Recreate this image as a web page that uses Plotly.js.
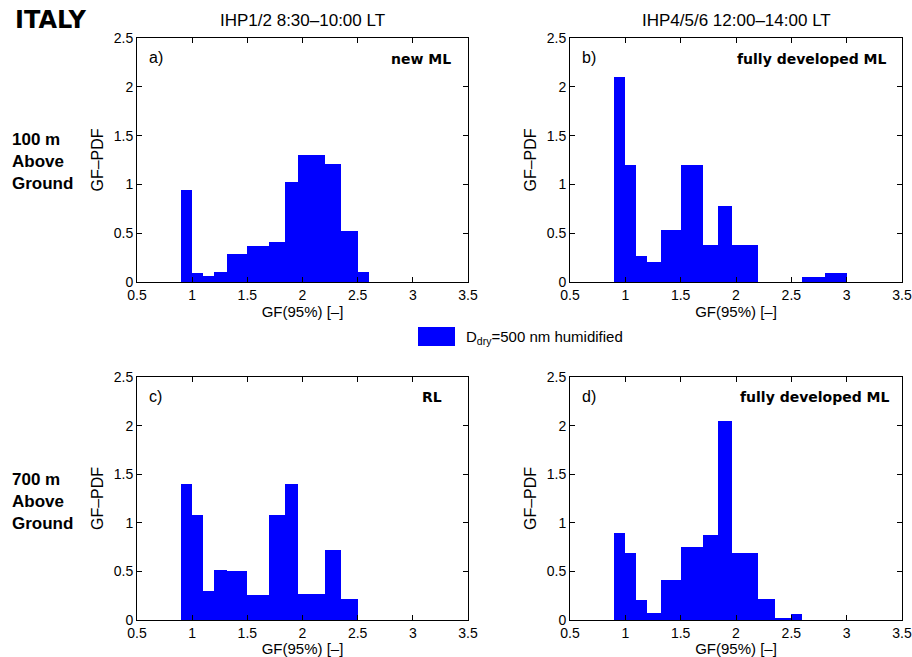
<!DOCTYPE html>
<html>
<head>
<meta charset="utf-8">
<script src="https://cdn.plot.ly/plotly-3.0.1.min.js"></script>
<style>html,body{margin:0;padding:0;background:#fff;}#chart{width:912px;height:657px;}</style>
</head>
<body>
<div id="chart"></div>
<script>
// GF(95%) bin edges (irregular bins)
const binEdges = [0.9, 1.0, 1.1, 1.2, 1.32, 1.5, 1.7, 1.84, 1.96, 2.2, 2.35, 2.5, 2.6, 2.8, 3.0];
// GF-PDF values per panel
const pdfA = [0.94, 0.09, 0.06, 0.10, 0.29, 0.37, 0.41, 1.02, 1.30, 1.21, 0.52, 0.10, 0, 0];
const pdfB = [2.10, 1.20, 0.27, 0.20, 0.53, 1.20, 0.38, 0.78, 0.38, 0, 0, 0, 0.055, 0.095];
const pdfC = [1.40, 1.08, 0.30, 0.51, 0.50, 0.26, 1.08, 1.40, 0.27, 0.72, 0.22, 0, 0, 0];
const pdfD = [0.90, 0.69, 0.21, 0.07, 0.41, 0.75, 0.87, 2.05, 0.69, 0.22, 0.025, 0.06, 0, 0];
const panelLetters = ["a)", "b)", "c)", "d)"];
const panelTags = ["new ML", "fully developed ML", "RL", "fully developed ML"];
const columnTitles = ["IHP1/2 8:30\u201310:00 LT", "IHP4/5/6 12:00\u201314:00 LT"];
const rowLabels = ["100 m<br>Above<br>Ground", "700 m<br>Above<br>Ground"];
const legendLabel = "D<sub>dry</sub>=500 nm humidified";
const xTickVals = [0.5, 1, 1.5, 2, 2.5, 3, 3.5];
const yTickVals = [0, 0.5, 1, 1.5, 2, 2.5];

const W = 912, H = 657;
const px = v => v / W;
const py = v => 1 - v / H;

const mids = binEdges.slice(0, -1).map((e, i) => (e + binEdges[i + 1]) / 2);
const widths = binEdges.slice(0, -1).map((e, i) => binEdges[i + 1] - e);

const FONT = "Liberation Sans, Arial, sans-serif";
const BOLD = "DejaVu Sans, sans-serif";

// panel boxes in pixels [left, right, top, bottom]
const boxes = [[137, 468, 38, 282], [570, 902, 38, 282], [137, 468, 377, 620], [570, 902, 377, 620]];
const tagPos = [[453, 58.5], [889, 59], [444, 397], [892, 397]];
const series = [pdfA, pdfB, pdfC, pdfD];

const traces = series.map((vals, i) => ({
  type: "bar",
  x: mids,
  y: vals,
  width: widths,
  xaxis: i === 0 ? "x" : "x" + (i + 1),
  yaxis: i === 0 ? "y" : "y" + (i + 1),
  marker: {color: "#0000ff", line: {width: 0}},
  showlegend: false,
  hoverinfo: "x+y"
}));

const layout = {
  width: W, height: H,
  margin: {l: 0, r: 0, t: 0, b: 0},
  paper_bgcolor: "#ffffff",
  plot_bgcolor: "#ffffff",
  font: {family: FONT, color: "#000", size: 14},
  showlegend: false,
  bargap: 0,
  annotations: [],
  shapes: []
};

boxes.forEach((b, i) => {
  const n = i === 0 ? "" : String(i + 1);
  layout["xaxis" + n] = {
    domain: [px(b[0]), px(b[1])],
    anchor: "y" + n,
    range: [0.5, 3.5],
    tickvals: xTickVals,
    ticks: "inside", ticklen: 5, tickcolor: "#000",
    showline: true, linecolor: "#000", linewidth: 1, mirror: "ticks",
    showgrid: false, zeroline: false,
    tickfont: {family: FONT, size: 14, color: "#000"},
    title: {text: "GF(95%) [\u2013]", font: {family: FONT, size: 15, color: "#000"}, standoff: 1},
    automargin: false,
    fixedrange: true
  };
  layout["yaxis" + n] = {
    domain: [py(b[3]), py(b[2])],
    anchor: "x" + n,
    range: [0, 2.5],
    tickvals: yTickVals,
    ticks: "inside", ticklen: 5, tickcolor: "#000",
    showline: true, linecolor: "#000", linewidth: 1, mirror: "ticks",
    showgrid: false, zeroline: false,
    tickfont: {family: FONT, size: 14, color: "#000"},
    title: {text: "GF\u2013PDF", font: {family: FONT, size: 16, color: "#000"}, standoff: 6},
    automargin: false,
    fixedrange: true
  };
  layout.annotations.push({
    xref: "paper", yref: "paper", x: px(b[0] + 10), y: py(b[2] + 19),
    xanchor: "left", yanchor: "middle", showarrow: false,
    text: panelLetters[i], font: {family: FONT, size: 16, color: "#000"}
  });
  layout.annotations.push({
    xref: "paper", yref: "paper", x: px(tagPos[i][0]), y: py(tagPos[i][1]),
    xanchor: "right", yanchor: "middle", showarrow: false,
    text: "<b>" + panelTags[i] + "</b>", font: {family: BOLD, size: 14, color: "#000"}
  });
});

// column titles
[302.5, 736].forEach((cx, i) => {
  layout.annotations.push({
    xref: "paper", yref: "paper", x: px(cx), y: py(20),
    xanchor: "center", yanchor: "middle", showarrow: false,
    text: columnTitles[i], font: {family: FONT, size: 17, color: "#000"}
  });
});

// ITALY
layout.annotations.push({
  xref: "paper", yref: "paper", x: px(13), y: py(20),
  xanchor: "left", yanchor: "middle", showarrow: false,
  text: "<b>ITALY</b>", font: {family: BOLD, size: 24, color: "#000"}
});

// row labels
[161, 501].forEach((cy, i) => {
  layout.annotations.push({
    xref: "paper", yref: "paper", x: px(10), y: py(cy),
    xanchor: "left", yanchor: "middle", align: "left", showarrow: false,
    text: "<b>" + rowLabels[i] + "</b>", font: {family: FONT, size: 17, color: "#000"}
  });
});

// legend
layout.shapes.push({
  type: "rect", xref: "paper", yref: "paper",
  x0: px(418), x1: px(455), y0: py(346), y1: py(327),
  fillcolor: "#0000ff", line: {width: 0}
});
layout.annotations.push({
  xref: "paper", yref: "paper", x: px(464), y: py(337),
  xanchor: "left", yanchor: "middle", showarrow: false,
  text: legendLabel, font: {family: FONT, size: 15, color: "#000"}
});

Plotly.newPlot("chart", traces, layout, {displayModeBar: false, staticPlot: true});
</script>
</body>
</html>
